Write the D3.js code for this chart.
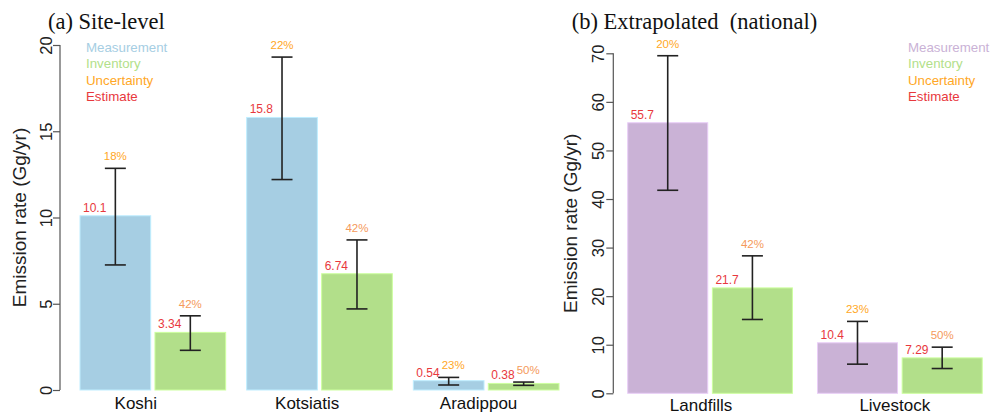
<!DOCTYPE html>
<html>
<head>
<meta charset="utf-8">
<script src="https://cdn.jsdelivr.net/npm/d3@7"></script>
<style>
  body { margin: 0; background: #fff; }
  svg { display: block; font-family: "Liberation Sans", Arial, sans-serif; }
  .title { font-family: "Liberation Serif", "Times New Roman", serif; font-size: 22.5px; fill: #111; white-space: pre; }
</style>
</head>
<body>
<svg width="992" height="417"></svg>
<script>
  // ---- data: (a) site level
  var siteCats = ["Koshi", "Kotsiatis", "Aradippou"];
  var siteMeas = [10.1, 15.8, 0.54];
  var siteInv = [3.34, 6.74, 0.38];
  var siteMeasLo = [7.25, 12.2, 0.29];
  var siteMeasHi = [12.85, 19.3, 0.73];
  var siteInvLo = [2.3, 4.7, 0.27];
  var siteInvHi = [4.3, 8.7, 0.46];
  var siteMeasPct = ["18%", "22%", "23%"];
  var siteInvPct = ["42%", "42%", "50%"];
  var siteTicks = [0, 5, 10, 15, 20];

  // ---- data: (b) extrapolated national
  var natCats = ["Landfills", "Livestock"];
  var natMeas = [55.7, 10.4];
  var natInv = [21.7, 7.29];
  var natMeasLo = [41.8, 6.0];
  var natMeasHi = [69.5, 14.8];
  var natInvLo = [15.2, 5.1];
  var natInvHi = [28.3, 9.5];
  var natMeasPct = ["20%", "23%"];
  var natInvPct = ["42%", "50%"];
  var natTicks = [0, 10, 20, 30, 40, 50, 60, 70];

  var legendLabels = ["Measurement", "Inventory", "Uncertainty", "Estimate"];

  // colours
  var red = "#e8383d";
  var orange = "#ffa726";
  var peach = "#f59a5b";
  var green = "#b2df8a";

  var svg = d3.select("svg");

  function panel(opt) {
    var g = svg.append("g");

    var x = d3.scaleBand().domain(opt.cats).range(opt.xRange)
      .paddingInner(opt.padIn).paddingOuter(0);
    var xi = d3.scaleBand().domain(["m", "i"]).range([0, x.bandwidth()])
      .paddingInner(opt.padPair).paddingOuter(0);
    var y = d3.scaleLinear().domain([0, opt.yMax]).range(opt.yRange);

    // axis
    var ax = g.append("g")
      .attr("transform", "translate(" + opt.axisX + ",0)")
      .call(d3.axisLeft(y).tickValues(opt.ticks).tickSize(7).tickSizeOuter(0));
    ax.select(".domain").attr("stroke", "#555").attr("stroke-width", 1.2)
      .attr("d", "M0," + y(0) + "V" + y(opt.yMax));
    ax.selectAll(".tick line").attr("stroke", "#555").attr("stroke-width", 1.2);
    ax.selectAll(".tick text")
      .attr("x", 0).attr("dy", 0).attr("y", -opt.tickGap)
      .attr("transform", "rotate(-90)")
      .attr("text-anchor", "middle")
      .attr("font-size", 16.5).attr("fill", "#222")
      .attr("font-family", "Liberation Sans, Arial, sans-serif");

    g.append("text")
      .attr("transform", "translate(" + opt.labelX + "," + (y(0) + y(opt.yMax)) / 2 + ") rotate(-90)")
      .attr("text-anchor", "middle")
      .attr("font-size", 19).attr("fill", "#222")
      .text("Emission rate (Gg/yr)");

    // bars
    var rows = opt.cats.map(function (c, i) {
      return [
        { cat: c, k: "m", v: opt.meas[i], lo: opt.measLo[i], hi: opt.measHi[i], pct: opt.measPct[i], fill: opt.measColor, pc: orange },
        { cat: c, k: "i", v: opt.inv[i], lo: opt.invLo[i], hi: opt.invHi[i], pct: opt.invPct[i], fill: green, pc: peach }
      ];
    });
    var data = [].concat.apply([], rows);

    function bx(d) { return x(d.cat) + xi(d.k); }
    function cx(d) { return bx(d) + xi.bandwidth() / 2; }

    g.selectAll("rect.bar").data(data).enter().append("rect")
      .attr("class", "bar")
      .attr("x", bx)
      .attr("y", function (d) { return y(d.v); })
      .attr("width", xi.bandwidth())
      .attr("height", function (d) { return y(0) - y(d.v); })
      .attr("fill", function (d) { return d.fill; })
      .attr("stroke", function (d) { return d3.color(d.fill).brighter(0.4); })
      .attr("stroke-width", 1);

    // error bars
    var eb = g.selectAll("g.err").data(data).enter().append("g")
      .attr("stroke", "#222").attr("stroke-width", 1.6);
    eb.append("line")
      .attr("x1", cx).attr("x2", cx)
      .attr("y1", function (d) { return y(d.lo); })
      .attr("y2", function (d) { return y(d.hi); });
    ["lo", "hi"].forEach(function (k) {
      eb.append("line")
        .attr("x1", function (d) { return cx(d) - opt.cap / 2; })
        .attr("x2", function (d) { return cx(d) + opt.cap / 2; })
        .attr("y1", function (d) { return y(d[k]); })
        .attr("y2", function (d) { return y(d[k]); });
    });

    // value labels
    var vals = g.selectAll("text.val").data(data).enter().append("text")
      .attr("x", function (d) { return bx(d) + 3; })
      .attr("y", function (d) { return y(d.v) - 4; })
      .attr("font-size", 12).attr("fill", red)
      .text(function (d) { return d.v; });
    vals.each(function (d) {
      d.valEnd = bx(d) + 3 + this.getComputedTextLength();
      d.valTop = y(d.v) - 4 - 10;
    });

    // uncertainty labels (nudged right if they would sit on the value label)
    g.selectAll("text.pct").data(data).enter().append("text")
      .attr("y", function (d) { return y(d.hi) - 8; })
      .attr("text-anchor", "middle")
      .attr("font-size", 11.5).attr("fill", function (d) { return d.pc; })
      .text(function (d) { return d.pct; })
      .attr("x", function (d) {
        var half = this.getComputedTextLength() / 2;
        var px = cx(d);
        if (y(d.hi) - 8 > d.valTop && px - half < d.valEnd + 2) px = d.valEnd + 2 + half;
        return px;
      });

    // category labels
    g.selectAll("text.cat").data(opt.cats).enter().append("text")
      .attr("x", function (c, i) { return x(c) + x.bandwidth() / 2 + opt.catShift + i * opt.catStep; })
      .attr("y", opt.catY)
      .attr("text-anchor", "middle")
      .attr("font-size", 17).attr("fill", "#111")
      .text(function (c) { return c; });

    // legend
    var legColors = [opt.measColor, green, orange, red];
    g.selectAll("text.leg").data(legendLabels).enter().append("text")
      .attr("x", opt.legX)
      .attr("y", function (d, i) { return 51.5 + i * 16.6; })
      .attr("font-size", 13.3)
      .attr("fill", function (d, i) { return legColors[i]; })
      .text(function (d) { return d; });

    // title
    g.append("text").attr("class", "title")
      .attr("x", opt.titleX).attr("y", 29)
      .text(opt.title);
  }

  panel({
    cats: siteCats, meas: siteMeas, inv: siteInv,
    measLo: siteMeasLo, measHi: siteMeasHi, invLo: siteInvLo, invHi: siteInvHi,
    measPct: siteMeasPct, invPct: siteInvPct, ticks: siteTicks,
    yMax: 20, yRange: [390, 45], xRange: [80, 559], padIn: 0.126, padPair: 0.057,
    axisX: 60, tickGap: 8, labelX: 26, cap: 21, catShift: -17, catStep: 4.7, catY: 409,
    measColor: "#a6cee3", legX: 86, titleX: 48, title: "(a) Site-level"
  });

  panel({
    cats: natCats, meas: natMeas, inv: natInv,
    measLo: natMeasLo, measHi: natMeasHi, invLo: natInvLo, invHi: natInvHi,
    measPct: natMeasPct, invPct: natInvPct, ticks: natTicks,
    yMax: 70, yRange: [393.3, 53.3], xRange: [627.7, 982.2], padIn: 0.132, padPair: 0.055,
    axisX: 613.3, tickGap: 9, labelX: 577, cap: 21, catShift: -9, catStep: 4, catY: 411,
    measColor: "#cab2d6", legX: 908, titleX: 571.7, title: "(b) Extrapolated  (national)"
  });
</script>
</body>
</html>
